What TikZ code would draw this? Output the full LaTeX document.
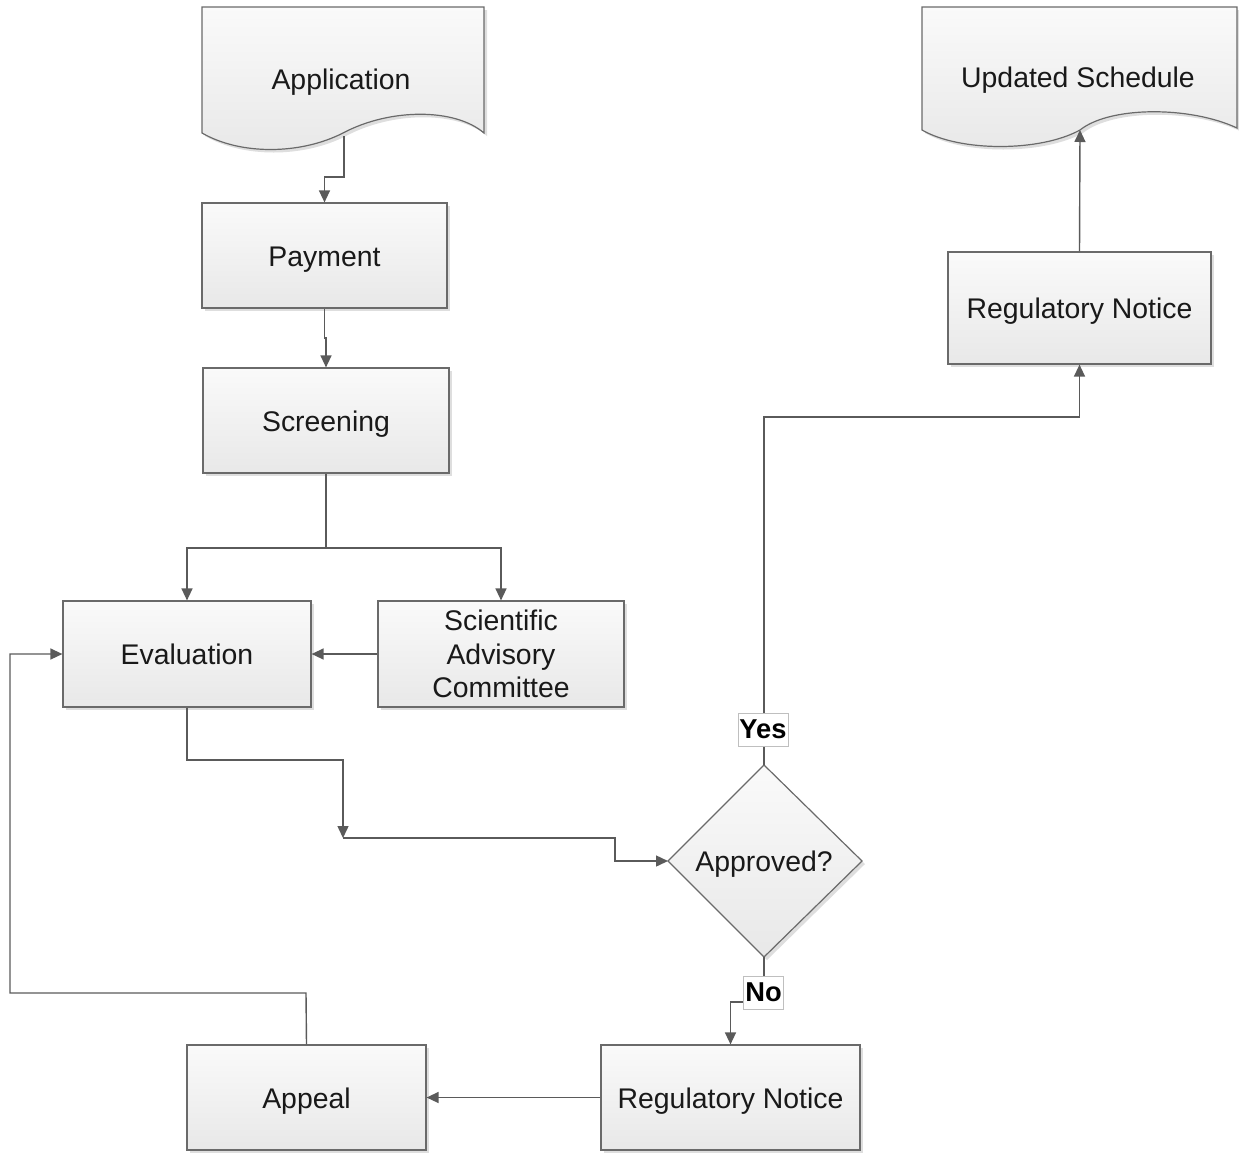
\documentclass[tikz,border=0pt]{standalone}
\usepackage{fontspec}
\setmainfont{Liberation Sans}
\usetikzlibrary{arrows.meta,shadows}
\definecolor{lc}{HTML}{5A5A5A}
\definecolor{bc}{HTML}{6A6A6A}
\tikzset{
  shd/.style={drop shadow={shadow xshift=3pt,shadow yshift=-3pt,fill=black,opacity=0.13}},
  shapefill/.style={draw=bc,line width=1.2pt,top color=white!98!black,bottom color=white!91!black,shd},
  txt/.style={font=\fontsize{28.4}{33.5}\selectfont,text=black!90,align=center,inner sep=0pt},
  one/.style={text height=21pt,text depth=0pt},
  box/.style={shapefill,txt},
  conn/.style={draw=lc,line width=1.4pt},
  arr/.style={conn,-{Triangle[length=12pt,width=11pt]}},
  lbl/.style={draw=black!25,fill=white,line width=0.8pt,font=\fontsize{27.3}{30}\selectfont\bfseries,inner sep=1.5pt,minimum height=33pt},
}
\begin{document}
\begin{tikzpicture}[x=1pt,y=-1pt]
\useasboundingbox (0,0) rectangle (1239,1152);
% documents
\path[shapefill] (202,7) -- (484,7) -- (484,133) .. controls (455,108) and (390,108) .. (343,133) .. controls (300,155) and (240,155) .. (202,133) -- cycle;
\node[txt,one] (appdoc) at (341,79) {Application};
\coordinate (appout) at (344,136);
\path[shapefill] (922,7) -- (1237,7) -- (1237,128) .. controls (1190,106) and (1110,106) .. (1080,130) .. controls (1040,152) and (960,152) .. (922,130) -- cycle;
\node[txt,one] (upd) at (1078,77) {Updated Schedule};
\coordinate (updin) at (1080,130);
% boxes
\node[box,one,minimum width=245pt,minimum height=105pt] (pay) at (324.5,255.5) {Payment};
\node[box,one,minimum width=246pt,minimum height=105pt] (scr) at (326,420.5) {Screening};
\node[box,one,minimum width=248pt,minimum height=106pt] (eva) at (187,654) {Evaluation};
\node[box,minimum width=246pt,minimum height=106pt] (sac) at (501,654) {Scientific\\Advisory\\Committee};
\node[box,one,minimum width=263pt,minimum height=112pt] (rn1) at (1079.5,308) {Regulatory Notice};
\node[box,one,minimum width=259pt,minimum height=105pt] (rn2) at (730.5,1097.5) {Regulatory Notice};
\node[box,one,minimum width=239pt,minimum height=105pt] (apl) at (306.5,1097.5) {Appeal};
% diamond
\coordinate (dt) at (764,765);
\coordinate (db) at (764,957);
\coordinate (dl) at (668,861);
\coordinate (dr) at (862,861);
\path[shapefill] (dt) -- (dr) -- (db) -- (dl) -- cycle;
\node[txt,one] (appr) at (764,861) {Approved?};
% connectors
\draw[arr] (appout) -- (344,177) -| (pay.north);
\draw[arr] (pay.south) -- (324.5,338) -| (scr.north);
\coordinate (split) at (326,548);
\draw[conn] (scr.south) -- (split);
\draw[arr] (split) -| (eva.north);
\draw[arr] (split) -| (sac.north);
\draw[arr] (sac.west) -- (eva.east);
\coordinate (mid) at (343,838);
\draw[arr] (eva.south) -- (187,760) -| (mid);
\draw[arr] (mid) -| (615,861) -- (dl);
\draw[arr] (dt) -- (764,417) -| (rn1.south);
\draw[arr] (rn1.north) -- (updin);
\draw[arr] (db) -- (764,1002) -| (rn2.north);
\draw[arr] (rn2.west) -- (apl.east);
\draw[arr] (apl.north) -- (306,993) -| (10,654) -- (eva.west);
% labels
\node[lbl] (yes) at (763,729.5) {Yes};
\node[lbl] (no) at (763.5,992.5) {No};
\end{tikzpicture}
\end{document}
